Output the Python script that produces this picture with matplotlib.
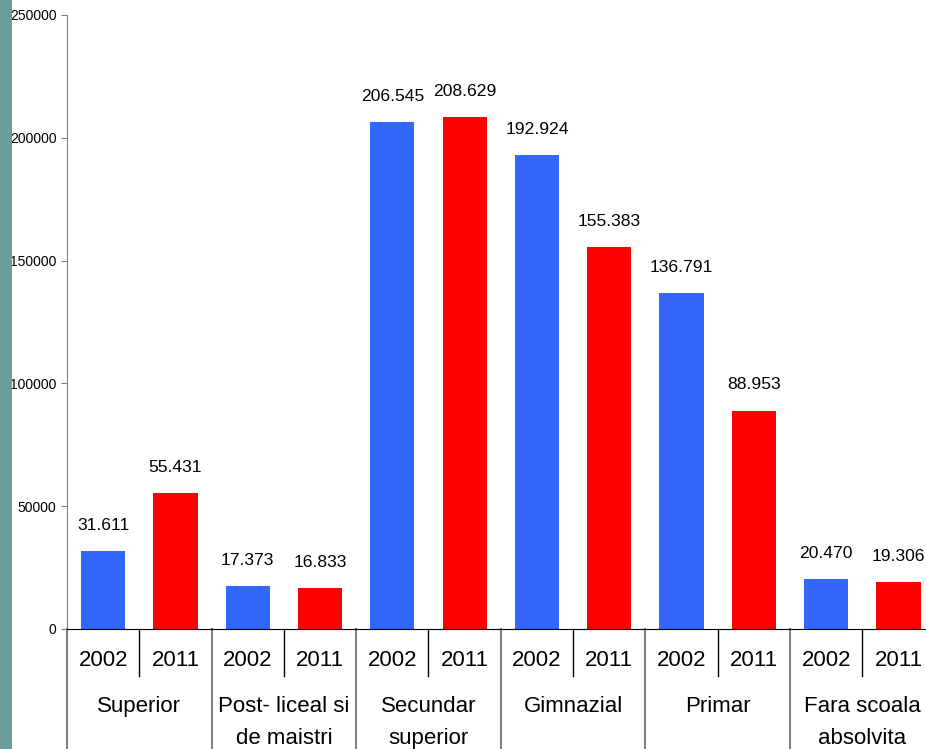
import matplotlib
matplotlib.use("Agg")
import matplotlib.pyplot as plt
from matplotlib.patches import Rectangle
from matplotlib.lines import Line2D

plt.rcParams['font.family'] = ['Liberation Sans', 'DejaVu Sans']

# data
categories = ["Superior", "Post- liceal si\nde maistri", "Secundar\nsuperior",
              "Gimnazial", "Primar", "Fara scoala\nabsolvita"]
years = ["2002", "2011"]
values_2002 = [31611, 17373, 206545, 192924, 136791, 20470]
values_2011 = [55431, 16833, 208629, 155383, 88953, 19306]

blue = "#3366FF"
red = "#FF0000"
gray = "#808080"

W, H = 926, 749
fig = plt.figure(figsize=(W / 100, H / 100), dpi=100)

# teal strip on the left edge
fig.patches.append(Rectangle((0, 0), 12 / W, 1, transform=fig.transFigure,
                             facecolor="#6A9D9B", edgecolor="none"))

ax_left, ax_bottom = 67 / W, (H - 629) / H
ax_w, ax_h = 6 * 144.6 / W, 614 / H
ax = fig.add_axes([ax_left, ax_bottom, ax_w, ax_h])


def fmt(v):
    return f"{v:,}".replace(",", ".")


for i in range(len(categories)):
    for j, (vals, col) in enumerate([(values_2002, blue), (values_2011, red)]):
        x = 2 * i + j + 0.5
        ax.bar(x, vals[i], width=0.61, color=col, edgecolor="none")
        ax.annotate(fmt(vals[i]), (x, vals[i]), xytext=(0, 13), textcoords="offset points",
                    ha="center", va="bottom", fontsize=12.6)

ax.set_xlim(0, 12)
ax.set_ylim(0, 250000)
ax.set_yticks(range(0, 250001, 50000))
ax.tick_params(axis="y", labelsize=10, length=4, color=gray, pad=3.5)
ax.set_xticks([])

for s in ["top", "right"]:
    ax.spines[s].set_visible(False)
ax.spines["left"].set_color(gray)
ax.spines["bottom"].set_color("black")

# two-level x axis labels
trans = ax.get_xaxis_transform()
year_y = (629 - 660) / 614
cat_y = (629 - 696) / 614
for i, cat in enumerate(categories):
    for j, yr in enumerate(years):
        ax.text(2 * i + j + 0.5, year_y, yr, transform=trans, ha="center", va="center",
                fontsize=16)
    ax.text(2 * i + 1, cat_y, cat, transform=trans, ha="center", va="top",
            fontsize=16, linespacing=1.7)
    # short separator between years
    ax.add_line(Line2D([2 * i + 1, 2 * i + 1], [0, (629 - 676) / 614], transform=trans,
                       color="black", lw=1, clip_on=False))

# category separators running to the bottom
for k in range(len(categories) + 1):
    ax.add_line(Line2D([2 * k, 2 * k], [0, (629 - 760) / 614], transform=trans,
                       color=gray, lw=1.5, clip_on=False))

fig.savefig("out.png", dpi=100)
